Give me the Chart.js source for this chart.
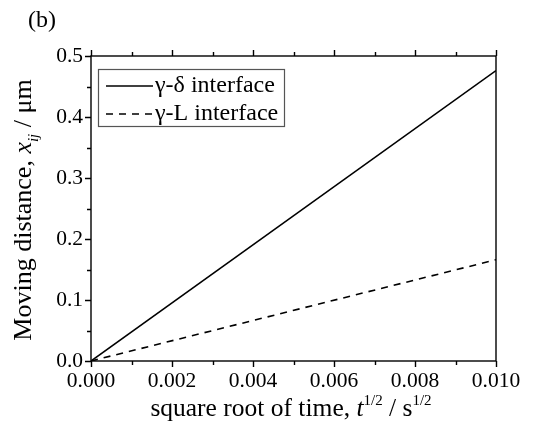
<!DOCTYPE html>
<html><head><meta charset="utf-8">
<script src="https://cdn.jsdelivr.net/npm/chart.js@4"></script>
<style>html,body{margin:0;padding:0;background:#fff}#wrap{width:537px;height:430px}</style>
</head><body><div id="wrap"><canvas id="c" width="537" height="430"></canvas></div>
<script>
const timeSqrt = [0.000, 0.010];
const gammaDelta = [0.000, 0.476];
const gammaL = [0.000, 0.166];
const xTicks = [0.000, 0.002, 0.004, 0.006, 0.008, 0.010];
const yTicks = [0.0, 0.1, 0.2, 0.3, 0.4, 0.5];
const seriesNames = ['γ-δ interface', 'γ-L interface'];

const SERIF = '"Liberation Serif", "DejaVu Serif", serif';

const toPts = (xs, ys) => xs.map((x, i) => ({x: x, y: ys[i]}));

const decor = {
  id: 'decor',
  afterDraw(chart) {
    const ctx = chart.ctx, a = chart.chartArea;
    const xs = chart.scales.x, ys = chart.scales.y;
    ctx.save();
    ctx.strokeStyle = '#000'; ctx.lineWidth = 1.4;
    // frame
    ctx.strokeRect(a.left, a.top, a.right - a.left, a.bottom - a.top);
    // ticks
    ctx.beginPath();
    for (let v = 0; v <= 0.0100001; v += 0.001) {
      const px = Math.round(xs.getPixelForValue(v)) + 0.5;
      const major = Math.round(v * 1000) % 2 === 0;
      const L = major ? 6 : 4;
      ctx.moveTo(px, a.bottom); ctx.lineTo(px, a.bottom + L);
      ctx.moveTo(px, a.top); ctx.lineTo(px, a.top - L);
    }
    for (let v = 0; v <= 0.50001; v += 0.05) {
      const py = Math.round(ys.getPixelForValue(v)) + 0.5;
      const major = Math.round(v * 100) % 10 === 0;
      const L = major ? 6 : 4;
      ctx.moveTo(a.left, py); ctx.lineTo(a.left - L, py);
    }
    ctx.stroke();
    // tick labels
    ctx.fillStyle = '#000';
    ctx.font = '21.5px ' + SERIF;
    ctx.textAlign = 'center'; ctx.textBaseline = 'middle';
    xTicks.forEach(v => ctx.fillText(v.toFixed(3), xs.getPixelForValue(v), a.bottom + 20));
    ctx.textAlign = 'right';
    yTicks.forEach(v => ctx.fillText(v.toFixed(1), a.left - 8, ys.getPixelForValue(v)));
    // panel label
    ctx.textAlign = 'left';
    ctx.font = '24px ' + SERIF;
    ctx.fillText('(b)', 28, 21);
    // x title
    const parts = [
      {t: 'square root of time, ', f: '25.5px ' + SERIF, dy: 0},
      {t: 't', f: 'italic 25.5px ' + SERIF, dy: 0},
      {t: '1/2', f: '15px ' + SERIF, dy: -11},
      {t: ' / s', f: '25.5px ' + SERIF, dy: 0},
      {t: '1/2', f: '15px ' + SERIF, dy: -11}
    ];
    let w = 0;
    parts.forEach(p => { ctx.font = p.f; w += ctx.measureText(p.t).width; });
    let x = 291 - w / 2;
    ctx.textBaseline = 'alphabetic';
    parts.forEach(p => { ctx.font = p.f; ctx.fillText(p.t, x, 416 + p.dy); x += ctx.measureText(p.t).width; });
    // y title
    const yparts = [
      {t: 'Moving distance, ', f: '26px ' + SERIF, dy: 0},
      {t: 'x', f: 'italic 26px ' + SERIF, dy: 0},
      {t: 'ij', f: 'italic 15px ' + SERIF, dy: 7},
      {t: ' / μm', f: '26px ' + SERIF, dy: 0}
    ];
    w = 0;
    yparts.forEach(p => { ctx.font = p.f; w += ctx.measureText(p.t).width; });
    ctx.save();
    ctx.translate(31, 210);
    ctx.rotate(-Math.PI / 2);
    x = -w / 2;
    yparts.forEach(p => { ctx.font = p.f; ctx.fillText(p.t, x, p.dy); x += ctx.measureText(p.t).width; });
    ctx.restore();
    // legend
    ctx.strokeStyle = '#555'; ctx.lineWidth = 1.2;
    ctx.strokeRect(98.5, 69.5, 186, 57);
    ctx.strokeStyle = '#000'; ctx.lineWidth = 1.5;
    ctx.font = '24px ' + SERIF;
    ctx.textBaseline = 'middle'; ctx.textAlign = 'left';
    const rows = [86, 114];
    chart.data.datasets.forEach((ds, i) => {
      ctx.setLineDash(ds.borderDash || []);
      ctx.beginPath(); ctx.moveTo(106, rows[i]); ctx.lineTo(153, rows[i]); ctx.stroke();
      ctx.setLineDash([]);
      ctx.fillText(ds.label, 155, rows[i]);
    });
    ctx.restore();
  }
};

new Chart(document.getElementById('c'), {
  type: 'scatter',
  data: {
    datasets: [
      {label: seriesNames[0], data: toPts(timeSqrt, gammaDelta), showLine: true, borderColor: '#000', borderWidth: 1.6, pointRadius: 0, fill: false},
      {label: seriesNames[1], data: toPts(timeSqrt, gammaL), showLine: true, borderColor: '#000', borderWidth: 1.6, borderDash: [7, 6], pointRadius: 0, fill: false}
    ]
  },
  options: {
    responsive: false, animation: false, devicePixelRatio: 1,
    layout: {padding: {left: 0, top: 56, right: 41, bottom: 0}},
    plugins: {legend: {display: false}, tooltip: {enabled: false}},
    scales: {
      x: {type: 'linear', min: 0, max: 0.010,
          ticks: {display: false, stepSize: 0.002}, grid: {display: false}, border: {display: false},
          afterFit(s) { s.height = 69; }},
      y: {type: 'linear', min: 0, max: 0.5,
          ticks: {display: false, stepSize: 0.1}, grid: {display: false}, border: {display: false},
          afterFit(s) { s.width = 91; }}
    }
  },
  plugins: [decor]
});
</script></body></html>
